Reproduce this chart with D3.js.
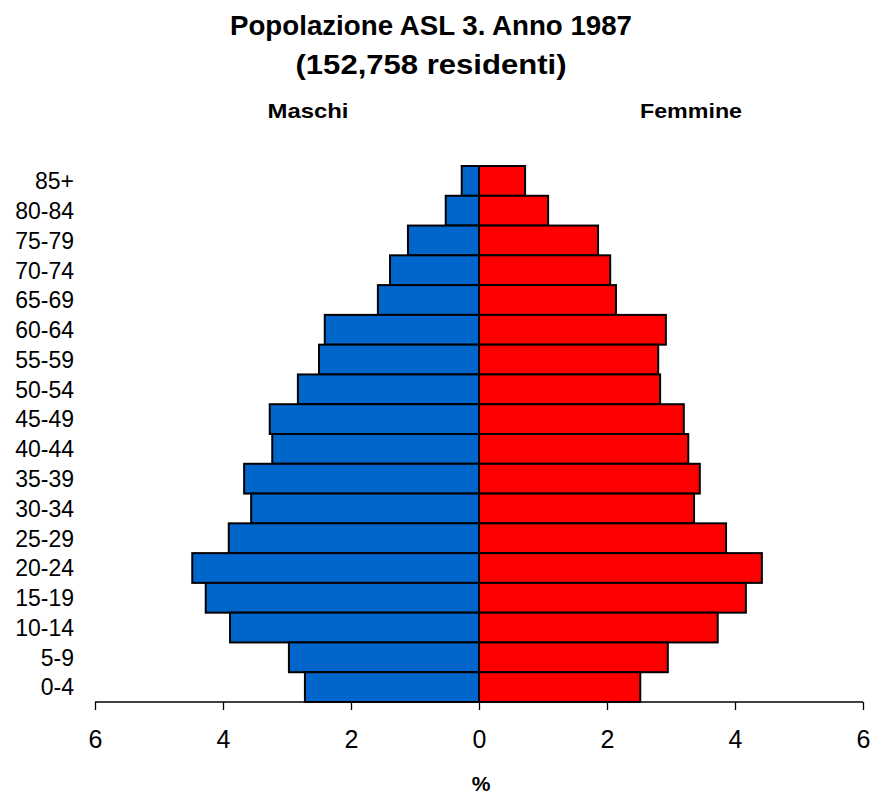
<!DOCTYPE html>
<head>
<meta charset="utf-8">
<script src="https://d3js.org/d3.v7.min.js"></script>
<style>
body {
  margin: 0;
  background: #fff;
  font-family: "Liberation Sans", Arial, sans-serif;
}
.title { font-weight: bold; font-size: 28px; }
.side { font-weight: bold; font-size: 21px; }
.axis text { font-size: 25px; fill: #000; }
.axis path, .axis line { stroke: #000; stroke-width: 1.3; }
.ylab { font-size: 23px; }
</style>
</head>
<body>
<div id="chart"></div>
<script>
// Age groups (top to bottom) and percentages
let ages = ["85+","80-84","75-79","70-74","65-69","60-64","55-59","50-54","45-49",
            "40-44","35-39","30-34","25-29","20-24","15-19","10-14","5-9","0-4"];
let maschi = [0.27,0.52,1.11,1.39,1.58,2.41,2.50,2.83,3.27,
              3.23,3.67,3.56,3.91,4.48,4.27,3.89,2.97,2.72];
let femmine = [0.72,1.08,1.86,2.05,2.14,2.92,2.80,2.83,3.20,
               3.27,3.45,3.36,3.86,4.42,4.17,3.73,2.95,2.52];
let ticks = [-6,-4,-2,0,2,4,6];

let margin = {top: 166, right: 10, bottom: 94, left: 95},
    width = 768,
    height = 796 - margin.top - margin.bottom;

let svg = d3.select("#chart").append("svg")
    .attr("width", 873)
    .attr("height", 796);

let g = svg.append("g")
    .attr("transform", "translate(" + margin.left + "," + margin.top + ")");

let x = d3.scaleLinear().domain([-6, 6]).range([0, width]);
let y = d3.scaleBand().domain(ages).range([0, height]).padding(0);

// bars
g.selectAll("rect.m")
  .data(ages)
  .enter().append("rect")
    .attr("class", "m")
    .attr("x", function(d, i) { return x(-maschi[i]); })
    .attr("y", function(d) { return y(d); })
    .attr("width", function(d, i) { return x(0) - x(-maschi[i]); })
    .attr("height", y.bandwidth())
    .attr("fill", "#0066cc")
    .attr("stroke", "#000")
    .attr("stroke-width", 2);

g.selectAll("rect.f")
  .data(ages)
  .enter().append("rect")
    .attr("class", "f")
    .attr("x", x(0))
    .attr("y", function(d) { return y(d); })
    .attr("width", function(d, i) { return x(femmine[i]) - x(0); })
    .attr("height", y.bandwidth())
    .attr("fill", "#ff0000")
    .attr("stroke", "#000")
    .attr("stroke-width", 2);

// age labels
g.selectAll("text.ylab")
  .data(ages)
  .enter().append("text")
    .attr("class", "ylab")
    .attr("x", -21)
    .attr("y", function(d) { return y(d) + y.bandwidth() / 2; })
    .attr("dy", "0.36em")
    .attr("text-anchor", "end")
    .text(function(d) { return d; });

// x axis
let xAxis = d3.axisBottom(x)
    .tickValues(ticks)
    .tickSize(8)
    .tickPadding(20)
    .tickFormat(function(d) { return Math.abs(d); });

g.append("g")
    .attr("class", "axis")
    .attr("transform", "translate(0," + height + ")")
    .call(xAxis)
    .call(function(a) { a.select(".domain").attr("d", "M0,0H" + width); });

// titles
function label(cls, tx, ty, txt, len) {
  let t = svg.append("text").attr("class", cls)
      .attr("x", tx).attr("y", ty).attr("text-anchor", "middle")
      .text(txt);
  if (len) t.attr("textLength", len).attr("lengthAdjust", "spacingAndGlyphs");
  return t;
}
label("title", 431, 35, "Popolazione ASL 3. Anno 1987", 402);
label("title", 431, 74, "(152,758 residenti)", 271);
label("side", 308, 118, "Maschi", 81);
label("side", 691, 118, "Femmine", 102);
label("side", x(0) + margin.left + 2, 791, "%");
</script>
</body>
